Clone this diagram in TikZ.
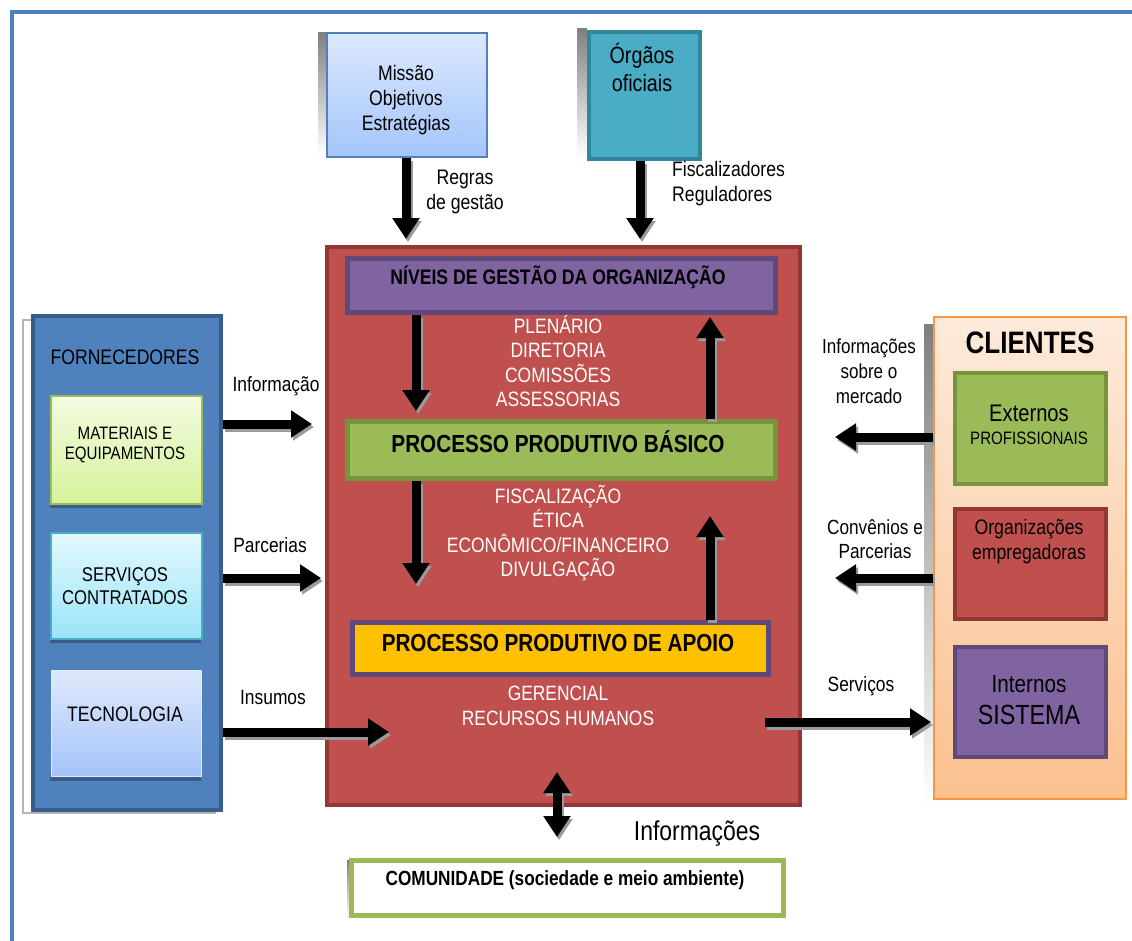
\documentclass[tikz,border=0pt]{standalone}
\usepackage{fontspec}
\setmainfont{Liberation Sans}[FakeStretch=0.84]
\usetikzlibrary{arrows.meta,shadows}
\definecolor{frameblue}{HTML}{4F81BD}
\definecolor{darkblue}{HTML}{385D8A}
\definecolor{redfill}{HTML}{C0504D}
\definecolor{redline}{HTML}{943634}
\definecolor{purfill}{HTML}{8064A2}
\definecolor{purline}{HTML}{5F497A}
\definecolor{grnfill}{HTML}{9BBB59}
\definecolor{grnline}{HTML}{77933C}
\definecolor{goldfill}{HTML}{FFC000}
\definecolor{tealfill}{HTML}{4BACC6}
\definecolor{tealline}{HTML}{31859C}
\definecolor{orgline}{HTML}{F79646}
\definecolor{peachtop}{HTML}{FDEADA}
\definecolor{peachbot}{HTML}{FBC08F}
\definecolor{mistop}{HTML}{DCE8FD}
\definecolor{misbot}{HTML}{A4C5FB}
\definecolor{mattop}{HTML}{F2FBE0}
\definecolor{matbot}{HTML}{D7F39B}
\definecolor{sertop}{HTML}{E3F8FD}
\definecolor{serbot}{HTML}{9AE5F9}
\definecolor{tectop}{HTML}{DFE9FC}
\definecolor{tecbot}{HTML}{A5C3F9}
\definecolor{shade}{HTML}{9A9A9A}
\definecolor{lshade}{HTML}{B4B4B4}
\tikzset{
  box/.style={rectangle, inner sep=0pt, anchor=north west},
  txt/.style={inner sep=0pt, align=center, text=black},
  wtxt/.style={inner sep=0pt, align=center, text=white},
  fat/.style={line width=9pt, -{Triangle[width=26pt,length=21pt]},
    preaction={draw=shade, line width=9pt, -{Triangle[width=26pt,length=21pt]}, transform canvas={shift={(2pt,-3pt)}}}},
  fatboth/.style={line width=9pt, {Triangle[width=26pt,length=21pt]}-{Triangle[width=26pt,length=21pt]},
    preaction={draw=shade, line width=9pt, {Triangle[width=26pt,length=21pt]}-{Triangle[width=26pt,length=21pt]}, transform canvas={shift={(2pt,-3pt)}}}},
}
\newcommand{\fs}[2]{\fontsize{#1pt}{#2pt}\selectfont}
\begin{document}
\begin{tikzpicture}[x=1pt,y=-1pt]
\useasboundingbox (0,0) rectangle (1132,940);
\fill[white] (0,0) rectangle (1132,940);
% page frame
\draw[frameblue, line width=4pt] (12,945) -- (12,12) -- (1140,12);

% top boxes
\fill[shade] (318,32) rectangle (327,156);
\node[box, minimum width=160pt, minimum height=124pt, top color=mistop, bottom color=misbot, draw=frameblue, line width=1.5pt] (missao) at (326,32) {};
\node[txt, font=\fs{21}{25}] (missaot) at (406,100) {Missão\\Objetivos\\Estratégias};

\fill[shade] (577,28) rectangle (587,157);
\node[box, minimum width=111pt, minimum height=127pt, fill=tealfill, draw=tealline, line width=4pt] (orgaos) at (587,30) {};
\node[txt, font=\fs{23.5}{28}] (orgaost) at (642,67) {Órgãos\\oficiais};

% central red box
\fill[shade] (325,250) rectangle (800,812);
\fill[white] (330,250) rectangle (795,808);
\node[box, minimum width=473pt, minimum height=558pt, fill=redfill, draw=redline, line width=4pt] (org) at (325,245) {};

\node[box, minimum width=428pt, minimum height=54pt, fill=purfill, draw=purline, line width=5pt] (niveis) at (345,256) {};
\node[txt, font=\fs{21}{22}\bfseries] (niveist) at (558,277) {NÍVEIS DE GESTÃO DA ORGANIZAÇÃO};
\node[wtxt, font=\fs{20.8}{24.5}] (plen) at (558,361) {PLENÁRIO\\DIRETORIA\\COMISSÕES\\ASSESSORIAS};

\node[box, minimum width=428pt, minimum height=57pt, fill=grnfill, draw=grnline, line width=5pt] (basico) at (345,419) {};
\node[txt, font=\fs{24.7}{26}\bfseries] (basicot) at (558,442) {PROCESSO PRODUTIVO BÁSICO};
\node[wtxt, font=\fs{20.8}{24.5}] (fisc) at (558,533) {FISCALIZAÇÃO\\ÉTICA\\ECONÔMICO/FINANCEIRO\\DIVULGAÇÃO};

\node[box, minimum width=416pt, minimum height=52pt, fill=goldfill, draw=purline, line width=5pt] (apoio) at (350,620) {};
\node[txt, font=\fs{24.6}{26}\bfseries] (apoiot) at (558,643) {PROCESSO PRODUTIVO DE APOIO};
\node[wtxt, font=\fs{20.7}{25}] (ger) at (558,706) {GERENCIAL\\RECURSOS HUMANOS};

% comunidade
\fill[shade] (347,860) rectangle (783,918);
\node[box, minimum width=432pt, minimum height=55pt, fill=white, draw=grnfill, line width=5pt] (comun) at (349,858) {};
\node[txt, font=\fs{20.5}{22}\bfseries] (comunt) at (565,880) {COMUNIDADE (sociedade e meio ambiente)};
\node[txt, font=\fs{27.3}{30}] (infot) at (697,834) {Informações};

% fornecedores
\draw[lshade, line width=1.5pt, fill=white] (23,320) rectangle (215,813);
\node[box, minimum width=188pt, minimum height=494pt, fill=frameblue, draw=darkblue, line width=4pt] (forn) at (31,314) {};
\node[txt, font=\fs{21}{22}] (fornt) at (125,357) {FORNECEDORES};
\fill[darkblue] (50,502) rectangle (201,508);
\node[box, minimum width=151pt, minimum height=108pt, top color=mattop, bottom color=matbot, draw=grnfill, line width=1.5pt] (mat) at (50,395) {};
\node[txt, font=\fs{18}{20}] (matt) at (125,445) {MATERIAIS E\\EQUIPAMENTOS};
\fill[darkblue] (50,637) rectangle (201,643);
\node[box, minimum width=151pt, minimum height=106pt, top color=sertop, bottom color=serbot, draw=tealfill, line width=1.5pt] (serv) at (50,532) {};
\node[txt, font=\fs{19.9}{23}] (servt) at (125,586) {SERVIÇOS\\CONTRATADOS};
\fill[darkblue] (50,775) rectangle (201,781);
\node[box, minimum width=150pt, minimum height=106pt, top color=tectop, bottom color=tecbot, draw=tectop, line width=1pt] (tec) at (51,670) {};
\node[txt, font=\fs{21}{22}] (tect) at (125,714) {TECNOLOGIA};

% clientes
\fill[shade] (924,324) rectangle (1117,806);
\node[box, minimum width=192pt, minimum height=482pt, top color=peachtop, bottom color=peachbot, draw=orgline, line width=2pt] (cli) at (933,316) {};
\node[txt, font=\fs{31}{32}\bfseries] (clit) at (1030,343) {CLIENTES};
\node[box, minimum width=151pt, minimum height=111pt, fill=grnfill, draw=grnline, line width=4pt] (ext) at (953,371) {};
\node[txt, font=\fs{24}{26}] (extt) at (1029,413) {Externos};
\node[txt, font=\fs{18}{18}] (extt2) at (1029,438) {PROFISSIONAIS};
\node[box, minimum width=151pt, minimum height=110pt, fill=redfill, draw=redline, line width=4pt] (emp) at (953,507) {};
\node[txt, font=\fs{21}{25}] (empt) at (1029,542) {Organizações\\empregadoras};
\node[box, minimum width=151pt, minimum height=110pt, fill=purfill, draw=purline, line width=4pt] (intn) at (953,645) {};
\node[txt, font=\fs{24.6}{26}] (intt) at (1029,684) {Internos};
\node[txt, font=\fs{27.7}{28}] (intt2) at (1029,715) {SISTEMA};

% labels
\node[txt, font=\fs{21}{25}] (regras) at (465,192) {Regras\\de gestão};
\node[txt, font=\fs{21}{25}, align=left, anchor=west] (fiscal) at (672,184) {Fiscalizadores\\Reguladores};
\node[txt, font=\fs{20.7}{20}] (linfo) at (276,386) {Informação};
\node[txt, font=\fs{20.7}{20}] (lparc) at (270,545) {Parcerias};
\node[txt, font=\fs{20.7}{20}] (lins) at (273,697) {Insumos};
\node[txt, font=\fs{20.3}{25}] (lmerc) at (869,371) {Informações\\sobre o\\mercado};
\node[txt, font=\fs{20.5}{24}] (lconv) at (875,539) {Convênios e\\Parcerias};
\node[txt, font=\fs{20.7}{20}] (lserv) at (861,686) {Serviços};

% arrow end coordinates
\coordinate (e1) at (406,239);
\coordinate (e2) at (640,239);
\coordinate (e3) at (416,411);
\coordinate (e4) at (710,317);
\coordinate (e5) at (416,584);
\coordinate (e6) at (710,516);
\coordinate (e7a) at (557,772);
\coordinate (e7b) at (557,837);
\coordinate (e8) at (312,424);
\coordinate (e9) at (321,578);
\coordinate (e10) at (389,732);
\coordinate (e11) at (835,437);
\coordinate (e12) at (835,578);
\coordinate (e13s) at (765,722);
\coordinate (e13) at (931,722);

\draw[fat] (missao.south -| e1) -- (e1);
\draw[fat] (orgaos.south -| e2) -- (e2);
\draw[fat] (niveis.south -| e3) -- (e3);
\draw[fat] (basico.north -| e4) -- (e4);
\draw[fat] (basico.south -| e5) -- (e5);
\draw[fat] (apoio.north -| e6) -- (e6);
\draw[fatboth] (e7a) -- (e7b);
\draw[fat] (forn.east |- e8) -- (e8);
\draw[fat] (forn.east |- e9) -- (e9);
\draw[fat] (forn.east |- e10) -- (e10);
\draw[fat] (cli.west |- e11) -- (e11);
\draw[fat] (cli.west |- e12) -- (e12);
\draw[fat] (e13s) -- (e13);
\end{tikzpicture}
\end{document}
